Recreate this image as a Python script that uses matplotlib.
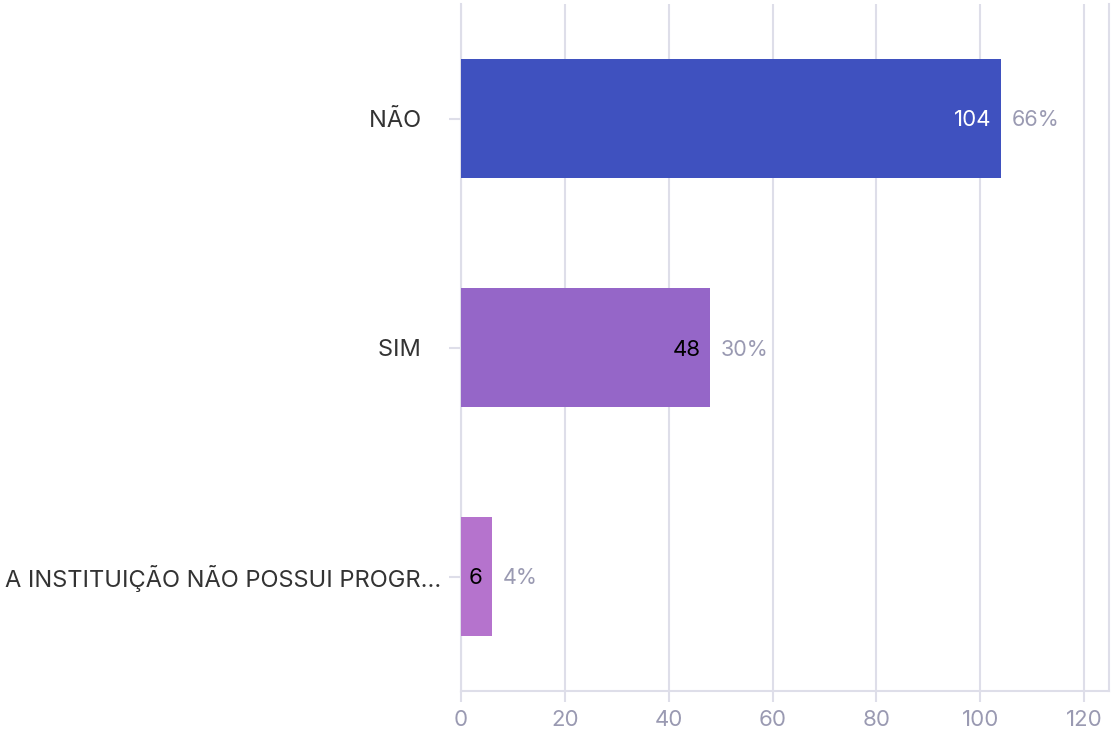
import numpy as np
import matplotlib.pyplot as plt

categories = ['NÃO   ', 'SIM   ', 'A INSTITUIÇÃO NÃO POSSUI PROGR...']
counts = [104, 48, 6]
percents = ['66%', '30%', '4%']
bar_colors = ['#3F51BF', '#9566C8', '#B573CD']
count_colors = ['white', 'black', 'black']
xticks = [0, 20, 40, 60, 80, 100, 120]

plt.rcParams['font.family'] = ['Inter', 'DejaVu Sans']

grid_color = '#DEDEE9'
tick_color = '#9A9AB2'

fig = plt.figure(figsize=(11.13, 7.29), dpi=100)
ax = fig.add_axes([461 / 1113, 1 - 691 / 729, (1109 - 461) / 1113, (691 - 4) / 729])

y = np.arange(len(categories))
ax.barh(y, counts, height=0.52, color=bar_colors, zorder=3)

for yi, c, p, cc in zip(y, counts, percents, count_colors):
    ax.text(c - 1.8, yi, str(c), ha='right', va='center_baseline', fontsize=16,
            color=cc, zorder=4)
    ax.text(c + 2.0, yi, p, ha='left', va='center_baseline', fontsize=15.5,
            color=tick_color, zorder=4)

ax.set_xlim(0, 124.8)
ax.set_ylim(2.5, -0.5)
ax.set_xticks(xticks)
ax.set_yticks(y)
ax.set_yticklabels(categories)

ax.grid(axis='x', color=grid_color, linewidth=1.5, zorder=0)
for side in ['left', 'bottom', 'right']:
    ax.spines[side].set_color(grid_color)
    ax.spines[side].set_linewidth(1.5)
ax.spines['top'].set_visible(False)

ax.tick_params(axis='x', colors=grid_color, labelcolor=tick_color,
               labelsize=16, length=8, width=1.5, pad=6)
ax.tick_params(axis='y', colors=grid_color, labelcolor='#333333',
               labelsize=17, length=9, width=1.5, pad=5.5)

fig.savefig('out.png', dpi=100)
